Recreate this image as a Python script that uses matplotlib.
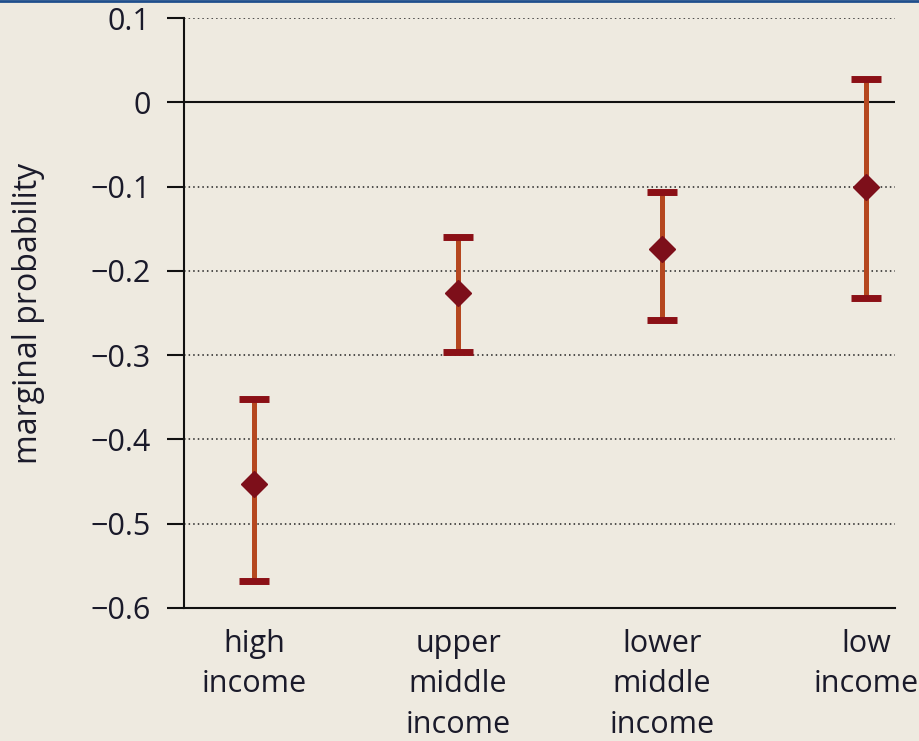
import matplotlib.pyplot as plt
from matplotlib.lines import Line2D
import numpy as np

# --- Data ---
categories = ['high\nincome', 'upper\nmiddle\nincome', 'lower\nmiddle\nincome', 'low\nincome']
estimates = [-0.453, -0.226, -0.174, -0.100]
upper_ci = [-0.352, -0.160, -0.106, 0.028]
lower_ci = [-0.568, -0.296, -0.258, -0.232]
y_ticks = [0.1, 0, -0.1, -0.2, -0.3, -0.4, -0.5, -0.6]

# --- Style ---
BG = '#eeeae0'
BAR_COLOR = '#b5471f'
CAP_COLOR = '#8b1016'
POINT_COLOR = '#7d0f1a'
TEXT_COLOR = '#1a1a2a'
plt.rcParams['font.family'] = ['Open Sans', 'DejaVu Sans']

fig = plt.figure(figsize=(9.2, 7.41), dpi=100, facecolor=BG)
ax = fig.add_axes([0.2, 0.1795, 0.773, 0.7962])
ax.set_facecolor(BG)

x = np.arange(len(categories))
est = np.array(estimates)
err = np.vstack([est - np.array(lower_ci), np.array(upper_ci) - est])

# dotted grid and solid zero line
for t in y_ticks:
    if t == 0:
        ax.axhline(0, color='#111111', lw=1.5, zorder=1)
    elif t > -0.6:
        ax.axhline(t, color='#222222', lw=1.1, ls=(0, (1, 2)), zorder=1)

markers, caps, bars = ax.errorbar(x, est, yerr=err, fmt='none', ecolor=BAR_COLOR,
                                  elinewidth=3.6, capsize=10.8, capthick=5, zorder=3)
for c in caps:
    c.set_markeredgecolor(CAP_COLOR)
    c.set_markerfacecolor(CAP_COLOR)
    c.set_zorder(3.5)
ax.plot(x, est, 'D', color=POINT_COLOR, markersize=13, zorder=4, ls='none')

ax.set_xlim(-0.343, 3.142)
ax.set_ylim(-0.6, 0.1)
ax.set_yticks(y_ticks)
ax.set_yticklabels(['0.1', '0', '\u22120.1', '\u22120.2', '\u22120.3', '\u22120.4', '\u22120.5', '\u22120.6'])
ax.set_xticks(x)
ax.set_xticklabels(categories, linespacing=1.45)

ax.tick_params(axis='y', length=12, width=1.5, pad=12, labelsize=22, color='#111111')
ax.tick_params(axis='x', length=0, pad=15, labelsize=22)
for lbl in ax.get_xticklabels() + ax.get_yticklabels():
    lbl.set_color(TEXT_COLOR)

for side in ['top', 'right']:
    ax.spines[side].set_visible(False)
for side in ['left', 'bottom']:
    ax.spines[side].set_linewidth(1.5)
    ax.spines[side].set_color('#111111')

ax.set_ylabel('marginal probability', fontsize=23, color=TEXT_COLOR)
ax.yaxis.set_label_coords(-0.196, 0.5)

# thin rule along the top edge
fig.add_artist(Line2D([0, 1], [0.999, 0.999], transform=fig.transFigure, color='#1f4e8c', lw=2))

fig.savefig('out.png', dpi=100, facecolor=BG)
